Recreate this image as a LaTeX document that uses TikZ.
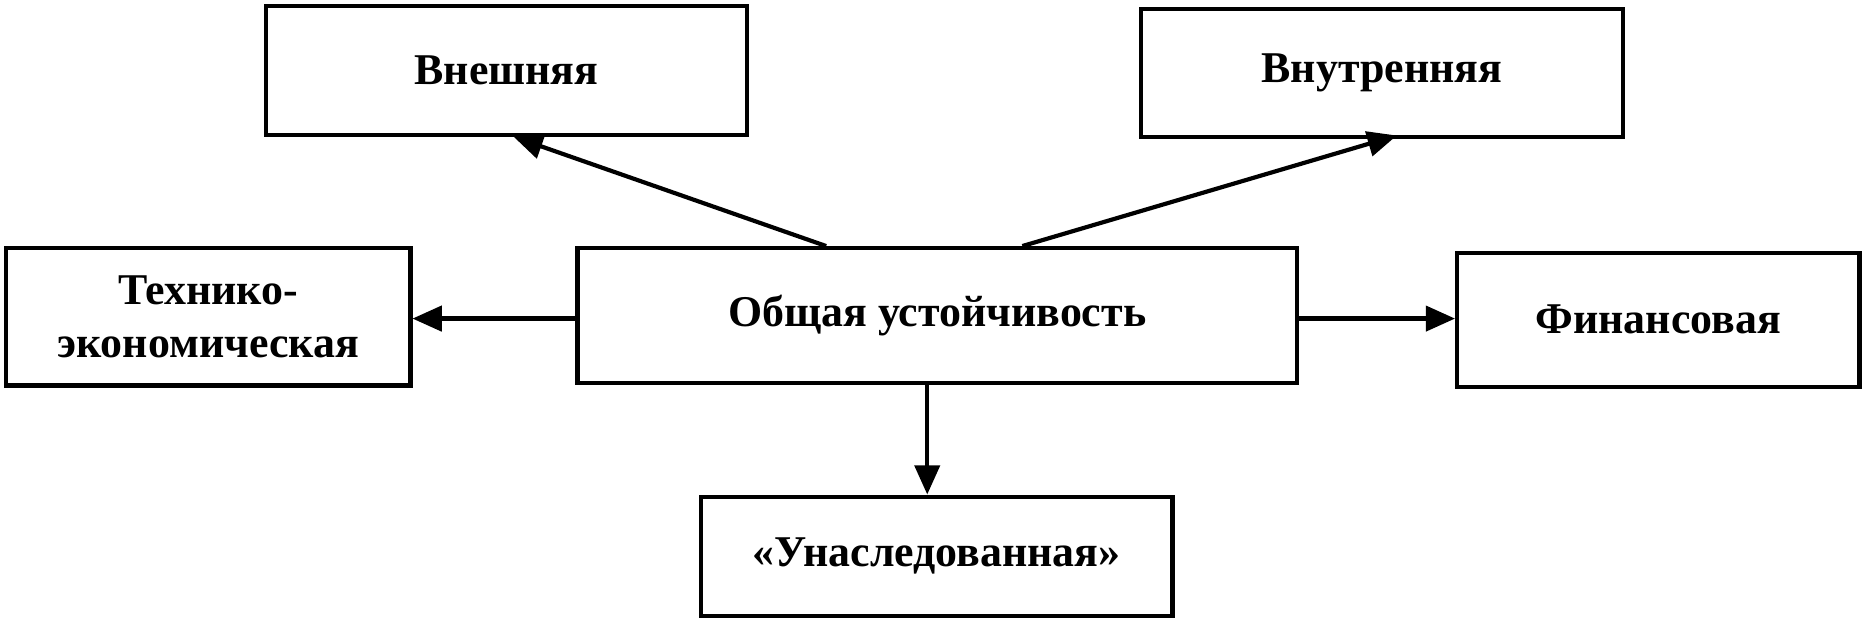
\documentclass[tikz,border=0pt]{standalone}
\usepackage{fontspec}
\setmainfont{Liberation Serif}
\usetikzlibrary{arrows.meta}
\begin{document}
\begin{tikzpicture}[x=0.01cm,y=-0.01cm,
  box/.style={draw,line width=1pt,inner sep=0pt,align=center,font=\fontsize{10.5pt}{12.5pt}\selectfont\bfseries},
  arr/.style={line width=1pt,-{Triangle[length=7pt,width=6pt]}}]
\useasboundingbox (0,0) rectangle (1568,522);
\newcommand{\bx}[6]{\node[box,minimum width=#4*0.01cm-1pt,minimum height=#5*0.01cm-1pt] (#1) at ({(#2+#4/2)},{(#3+#5/2)}) {#6};}
\bx{vn}{222}{3}{408}{112}{Внешняя}
\bx{vt}{958}{6}{409}{111}{Внутренняя}
\bx{te}{3}{207}{344}{119}{Технико-\\экономическая}
\bx{ob}{484}{207}{609}{117}{Общая устойчивость}
\bx{fi}{1224}{211}{342}{116}{Финансовая}
\bx{un}{588}{416}{400}{104}{«Унаследованная»}
\coordinate (a1) at (695,207); \coordinate (a2) at (860,207);
\coordinate (t1) at (432,115); \coordinate (t2) at (1175,114);
\draw[arr] (a1) -- (t1);
\draw[arr] (a2) -- (t2);
\draw[arr] (ob.west |- 0,268) -- (te.east |- 0,268);
\draw[arr] (ob.east |- 0,268) -- (fi.west |- 0,268);
\draw[arr] (ob.south -| 780,0) -- (un.north -| 780,0);
\end{tikzpicture}
\end{document}
